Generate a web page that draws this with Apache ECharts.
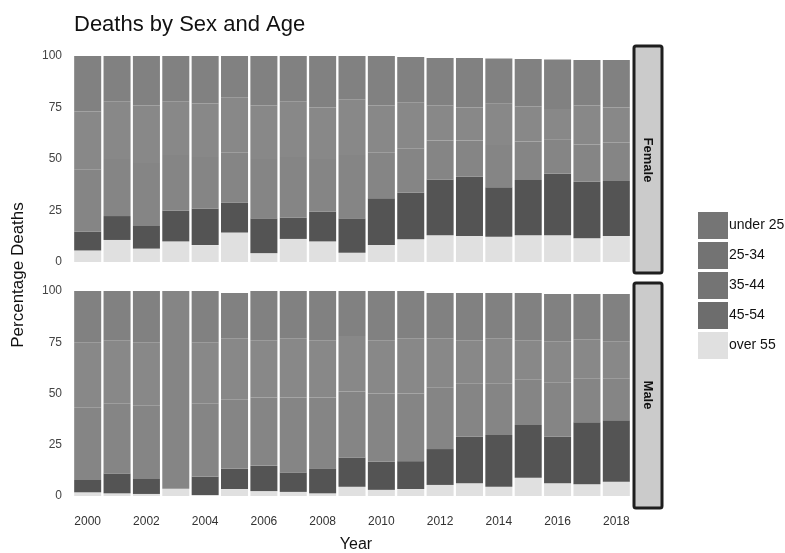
<!DOCTYPE html>
<html>
<head>
<meta charset="utf-8">
<script src="https://cdn.jsdelivr.net/npm/echarts@6/dist/echarts.min.js"></script>
<style>
html,body{margin:0;padding:0;background:#fff;}
#chart{width:785px;height:553px;}
</style>
</head>
<body>
<div id="chart"></div>
<script>
const years = ['2000','2001','2002','2003','2004','2005','2006','2007','2008','2009','2010','2011','2012','2013','2014','2015','2016','2017','2018'];
const ageGroups = ['under 25','25-34','35-44','45-54','over 55'];
const yTicks = [0,25,50,75,100];

// Female (percentages)
const femaleUnder25 = [27,22,24,22,23,20,24,22,25,21,24,22,23,24,22,23,24,22,23];
const female25to34  = [28,28,28,26,26,27,26,27,25,27,23,22.5,17,16,20,17,15,19,17];
const female35to44  = [30.3,27.7,30.5,27.1,25,24.2,28.8,29.5,25.6,30.8,22.1,21.4,18.9,17.6,20.5,18.7,16.3,18,18.7];
const female45to54  = [9.1,11.6,11,14.9,17.8,14.5,16.9,10.3,14.4,16.7,22.6,22.6,27.1,28.8,24,26.8,30,27.5,26.7];
const femaleOver55  = [5.6,10.7,6.5,10,8.2,14.3,4.3,11.2,10,4.5,8.3,11,13,12.6,12.3,13,13,11.5,12.6];

// Male (percentages)
const maleUnder25 = [25,24,25,0,25,22,24,23,24,22,24,23,22,23,22,23,23,22,23];
const male25to34  = [32,31,31,0,30,30,28,29,28,27,26,27,24,21,22,19,20,19,18];
const male35to44  = [35.2,34,35.7,96.5,35.5,33.6,33.3,36.5,34.5,32.3,33.3,33,30.1,26.1,25.2,22.4,26.6,21.5,20.5];
const male45to54  = [6,9.7,7.3,0,9,10,12.3,9.5,12.2,14.2,13.7,13.6,17.5,22.7,25.3,25.7,22.7,30.3,30];
const maleOver55  = [1.8,1.3,1,3.5,0.5,3.4,2.4,2,1.3,4.5,3,3.4,5.4,6.2,4.5,8.9,6.2,5.7,7];

const femaleData = [femaleUnder25, female25to34, female35to44, female45to54, femaleOver55];
const maleData = [maleUnder25, male25to34, male35to44, male45to54, maleOver55];

const colors = {'under 25':'#818181','25-34':'#888888','35-44':'#858585','45-54':'#545454','over 55':'#e0e0e0'};
const legendColors = {'under 25':'#757575','25-34':'#737373','35-44':'#747474','45-54':'#6d6d6d','over 55':'#e0e0e0'};

// stack order bottom -> top: over 55, 45-54, 35-44, 25-34, under 25
const stackOrder = [4,3,2,1,0];
const series = [];
[[femaleData,0,'f'],[maleData,1,'m']].forEach(([data, idx, st]) => {
  stackOrder.forEach(i => {
    const name = ageGroups[i];
    series.push({
      name: name,
      type: 'bar',
      stack: st,
      xAxisIndex: idx,
      yAxisIndex: idx,
      barCategoryGap: '8%',
      itemStyle: {color: colors[name]},
      emphasis: {disabled: true},
      data: data[i]
    });
  });
});

const font = 'Liberation Sans, Arial, sans-serif';
const chart = echarts.init(document.getElementById('chart'), null, {renderer:'canvas'});

function xAxis(gi, show) {
  return {
    type: 'category', gridIndex: gi, data: years,
    axisLine: {show:false}, axisTick: {show:false},
    axisLabel: {show: show, interval: 1, color:'#333', fontSize: 12, fontFamily: font, margin: 20}
  };
}
function yAxis(gi) {
  return {
    type: 'value', gridIndex: gi, min: yTicks[0], max: yTicks[yTicks.length-1], interval: 25,
    splitLine: {show:false}, axisLine: {show:false}, axisTick: {show:false},
    axisLabel: {color:'#444', fontSize: 12, fontFamily: font, margin: 11}
  };
}

chart.setOption({
  animation: false,
  backgroundColor: '#fff',
  title: {
    text: 'Deaths by Sex and Age', left: 69, top: 9,
    textStyle: {fontFamily: font, fontSize: 22, fontWeight: 'normal', color: '#111'}
  },
  legend: {
    orient: 'vertical', left: 693, top: 207,
    itemWidth: 30, itemHeight: 27, itemGap: 3, icon: 'rect',
    textStyle: {fontFamily: font, fontSize: 14, color: '#111', padding: [0,0,0,-4]},
    data: ageGroups.map(n => ({name: n, itemStyle: {color: legendColors[n]}}))
  },
  grid: [
    {left: 73, top: 56, width: 558, height: 206},
    {left: 73, top: 291, width: 558, height: 205}
  ],
  xAxis: [xAxis(0,false), xAxis(1,true)],
  yAxis: [yAxis(0), yAxis(1)],
  series: series,
  graphic: [
    {type:'rect', shape:{x:634, y:46, width:28, height:227, r:2}, style:{fill:'#cbcbcb', stroke:'#1e1e1e', lineWidth:3}},
    {type:'text', x:648, y:160, rotation:-Math.PI/2, style:{text:'Female', font:'bold 13px '+font, fill:'#111', align:'center', verticalAlign:'middle'}},
    {type:'rect', shape:{x:634, y:283, width:28, height:225, r:2}, style:{fill:'#cbcbcb', stroke:'#1e1e1e', lineWidth:3}},
    {type:'text', x:648, y:395, rotation:-Math.PI/2, style:{text:'Male', font:'bold 13px '+font, fill:'#111', align:'center', verticalAlign:'middle'}},
    {type:'text', x:18, y:275, rotation:Math.PI/2, style:{text:'Percentage Deaths', font:'17px '+font, fill:'#111', align:'center', verticalAlign:'middle'}},
    {type:'text', x:356, y:545, style:{text:'Year', font:'16px '+font, fill:'#111', align:'center', verticalAlign:'middle'}}
  ]
});
</script>
</body>
</html>
